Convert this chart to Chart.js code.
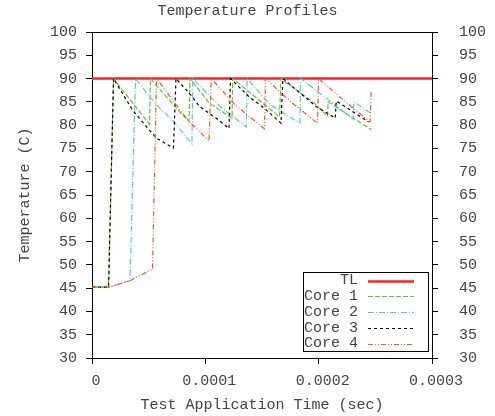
<!DOCTYPE html>
<html>
<head>
<meta charset="utf-8">
<title>Temperature Profiles</title>
<script src="https://cdn.jsdelivr.net/npm/chart.js@4.4.1/dist/chart.umd.min.js"></script>
<style>
  html, body { margin: 0; padding: 0; background: #fff; }
  #tempChart { display: block; }
</style>
</head>
<body>
<canvas id="tempChart" width="495" height="416"></canvas>
<script>
// values: time in seconds, temperature in C
const xTickValues = [0, 0.0001, 0.0002, 0.0003];
const xTickLabels = ["0", "0.0001", "0.0002", "0.0003"];
const yTickValues = [30, 35, 40, 45, 50, 55, 60, 65, 70, 75, 80, 85, 90, 95, 100];

const seriesNames = ["TL", "Core 1", "Core 2", "Core 3", "Core 4"];

// temperature limit
const tlTime = [0, 0.0003];
const tlTemp = [90, 90];

const core1Time = [0, 1.46e-5, 1.90e-5, 5.07e-5, 5.16e-5, 7.72e-5, 8.56e-5, 8.65e-5, 10.37e-5,
  12.35e-5, 12.42e-5, 16.54e-5, 16.68e-5, 19.63e-5, 20.78e-5, 20.84e-5, 24.66e-5];
const core1Temp = [45.2, 45.2, 90, 80.2, 90, 82.9, 80.8, 90, 84.7,
  81.5, 90, 81.8, 90, 84.7, 81.9, 85.0, 79.0];

const core2Time = [0, 1.46e-5, 3.35e-5, 3.84e-5, 5.69e-5, 7.10e-5, 8.82e-5, 8.89e-5, 11.25e-5,
  13.61e-5, 13.69e-5, 15.66e-5, 18.34e-5, 18.41e-5, 20.67e-5, 23.03e-5, 23.10e-5, 24.64e-5];
const core2Temp = [45.2, 45.2, 46.6, 90, 84.3, 81.1, 75.95, 90, 84.1,
  79.6, 90, 84.5, 80.4, 90, 85.8, 81.3, 85.0, 82.5];

const core3Time = [0, 1.46e-5, 1.90e-5, 3.57e-5, 4.90e-5, 5.69e-5, 7.01e-5, 7.19e-5, 7.41e-5,
  8.60e-5, 9.49e-5, 10.96e-5, 12.09e-5, 12.22e-5, 13.90e-5, 15.22e-5, 16.68e-5, 16.84e-5,
  18.31e-5, 19.78e-5, 21.46e-5, 21.55e-5, 24.40e-5];
const core3Temp = [45.2, 45.2, 90, 83.25, 79.4, 77.2, 75.3, 75.1, 90,
  86.8, 84.0, 81.5, 79.3, 90, 86.0, 83.6, 80.4, 90,
  87.0, 84.0, 81.5, 85.2, 80.7];

const core4Time = [0, 1.46e-5, 3.35e-5, 5.34e-5, 5.69e-5, 7.46e-5, 8.45e-5, 10.32e-5, 10.52e-5,
  12.57e-5, 15.22e-5, 15.31e-5, 17.60e-5, 19.90e-5, 19.99e-5, 22.28e-5, 24.53e-5, 24.64e-5];
const core4Temp = [45.2, 45.2, 46.6, 49.1, 90, 84.3, 81.1, 76.6, 90,
  84.5, 79.2, 90, 84.9, 80.4, 90, 85.2, 80.7, 87.5];

// pair up time and temperature arrays
function toPoints(times, temps) {
  return times.map((t, i) => ({ x: t, y: temps[i] }));
}

const monoFont = { family: "'Liberation Mono', 'DejaVu Sans Mono', monospace", size: 15 };
const textColor = "#444";

// gnuplot style key: label on the left, line sample on the right, in a box
const boxLegend = {
  id: "boxLegend",
  afterDraw(chart) {
    const ctx = chart.ctx;
    const area = chart.chartArea;
    const rowH = 15.75;
    const boxW = 125;
    const boxH = 16 + rowH * (chart.data.datasets.length - 1);
    const left = area.right - 3.5 - boxW;
    const top = area.bottom - 6.5 - boxH;

    ctx.save();
    ctx.fillStyle = "#fff";
    ctx.fillRect(left, top, boxW, boxH);
    ctx.strokeStyle = "#000";
    ctx.lineWidth = 1;
    ctx.setLineDash([]);
    ctx.strokeRect(left, top, boxW, boxH);

    ctx.font = "15px " + monoFont.family;
    ctx.textAlign = "right";
    ctx.textBaseline = "middle";
    chart.data.datasets.forEach((ds, i) => {
      const y = top + 8 + i * rowH;
      ctx.fillStyle = textColor;
      ctx.fillText(ds.label, left + 54.5, y);
      ctx.beginPath();
      ctx.setLineDash(ds.borderDash || []);
      ctx.strokeStyle = ds.borderColor;
      ctx.lineWidth = ds.borderWidth;
      ctx.moveTo(left + 64.5, Math.round(y) + 0.5);
      ctx.lineTo(left + 110.5, Math.round(y) + 0.5);
      ctx.stroke();
    });
    ctx.restore();
  }
};

function yAxis(position, width, pad) {
  return {
    type: "linear",
    position: position,
    display: true,
    min: 30,
    max: 100,
    afterBuildTicks: s => { s.ticks = yTickValues.map(v => ({ value: v })); },
    afterFit: s => { s.width = width; },
    ticks: { font: monoFont, color: textColor, padding: pad },
    grid: { drawOnChartArea: false, tickLength: 6, color: "#000" },
    border: { color: "#000", width: 1 }
  };
}

const ctx = document.getElementById("tempChart").getContext("2d");
new Chart(ctx, {
  type: "scatter",
  data: {
    datasets: [
      { label: seriesNames[0], data: toPoints(tlTime, tlTemp), borderColor: "#ff2020",
        borderWidth: 2.5, order: 5 },
      { label: seriesNames[1], data: toPoints(core1Time, core1Temp), borderColor: "#6abf40",
        borderWidth: 1.2, borderDash: [5, 2], order: 4 },
      { label: seriesNames[2], data: toPoints(core2Time, core2Temp), borderColor: "#5cc6d8",
        borderWidth: 1.2, borderDash: [6, 2, 1, 2], order: 3 },
      { label: seriesNames[3], data: toPoints(core3Time, core3Temp), borderColor: "#000000",
        borderWidth: 1.2, borderDash: [3, 3], order: 2 },
      { label: seriesNames[4], data: toPoints(core4Time, core4Temp), borderColor: "#f05a28",
        borderWidth: 1.2, borderDash: [5, 2, 1, 2, 1, 2], order: 1 }
    ].map(ds => Object.assign(ds, { showLine: true, pointRadius: 0, tension: 0, fill: false,
      yAxisID: "y" }))
  },
  options: {
    responsive: false,
    animation: false,
    devicePixelRatio: 1,
    layout: { padding: 0 },
    plugins: {
      legend: { display: false },
      tooltip: { enabled: false },
      title: {
        display: true,
        text: "Temperature Profiles",
        font: { family: monoFont.family, size: 15, weight: "normal" },
        color: textColor,
        padding: { top: 2, bottom: 12 }
      }
    },
    scales: {
      x: {
        type: "linear",
        position: "bottom",
        min: 0,
        max: 0.0003,
        afterBuildTicks: s => { s.ticks = xTickValues.map(v => ({ value: v })); },
        afterFit: s => { s.height = 58; },
        ticks: {
          font: monoFont, color: textColor, padding: 8, labelOffset: 4,
          maxRotation: 0, autoSkip: false,
          callback: (v, i) => xTickLabels[i]
        },
        grid: { drawOnChartArea: false, tickLength: 6, color: "#000" },
        border: { color: "#000", width: 1 },
        title: { display: true, text: "Test Application Time (sec)", font: monoFont,
          color: textColor, padding: { top: 0, bottom: 2 } }
      },
      xTop: {
        type: "linear",
        position: "top",
        display: true,
        min: 0,
        max: 0.0003,
        afterFit: s => { s.height = 0; },
        ticks: { display: false },
        grid: { display: false },
        border: { display: true, color: "#000", width: 1 }
      },
      y: Object.assign(yAxis("left", 92, 9), {
        title: { display: true, text: "Temperature (C)", font: monoFont, color: textColor,
          padding: { top: 16, bottom: 0 } }
      }),
      y2: yAxis("right", 63, 21)
    }
  },
  plugins: [boxLegend]
});
</script>
</body>
</html>
